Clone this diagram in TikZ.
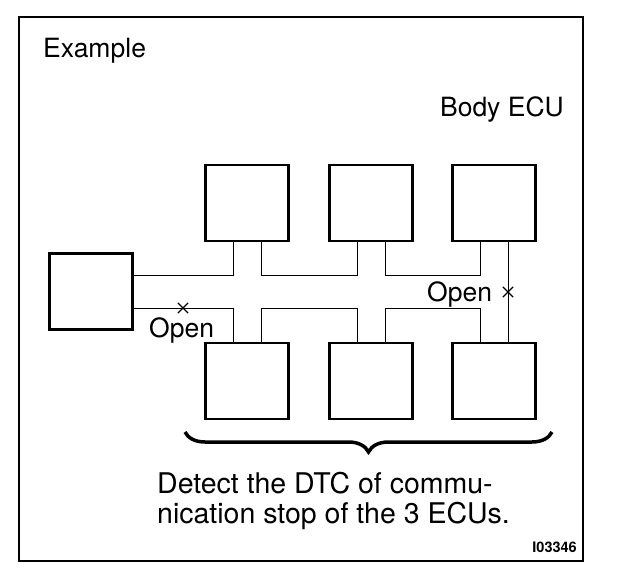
\documentclass[tikz,border=0pt]{standalone}
\usepackage{fontspec}
\setmainfont{TeX Gyre Heros}
\usetikzlibrary{shapes.misc,decorations.pathreplacing}
\tikzset{
  ecu/.style={draw, line width=2.2pt, minimum width=83pt, minimum height=76pt, inner sep=0pt, outer sep=0pt},
  wire/.style={line width=1pt},
  lbl/.style={font=\fontsize{26.5}{30}\selectfont, inner sep=0pt},
  openmark/.style={draw, cross out, line width=1.2pt, minimum width=9pt, minimum height=9pt, inner sep=0pt}
}
\begin{document}
\begin{tikzpicture}[x=1pt, y=-1pt]
  \useasboundingbox (0,0) rectangle (624,578);
  % frame
  \draw[line width=2.8pt] (19,17) rectangle (583,561);
  \node[lbl, anchor=base west] (title) at (43,58) {Example};
  \node[lbl, anchor=base east] (body) at (564,117) {Body ECU};
  % ECUs
  \node[ecu] (gw) at (91,291.5) {};
  \node[ecu] (t1) at (247,203) {};
  \node[ecu] (t2) at (371,203) {};
  \node[ecu] (t3) at (494,203) {};
  \node[ecu] (b1) at (247,381) {};
  \node[ecu] (b2) at (371,381) {};
  \node[ecu] (b3) at (494,381) {};
  % upper bus
  \draw[wire] ([yshift=16.5pt]gw.east) -| ([xshift=-14pt]t1.south);
  \draw[wire] ([xshift=14pt]t1.south) -- ++(0,34) -| ([xshift=-14pt]t2.south);
  \draw[wire] ([xshift=14pt]t2.south) -- ++(0,34) -| ([xshift=-14pt]t3.south);
  \draw[wire] ([xshift=14pt]t3.south) -- ([xshift=14pt]b3.north);
  % lower bus
  \draw[wire] ([yshift=-16.5pt]gw.east) -| ([xshift=-14pt]b1.north);
  \draw[wire] ([xshift=14pt]b1.north) -- ++(0,-35) -| ([xshift=-14pt]b2.north);
  \draw[wire] ([xshift=14pt]b2.north) -- ++(0,-35) -| ([xshift=-14pt]b3.north);
  % open circuits
  \node[openmark] (x1) at (183,308) {};
  \node[openmark] (x2) at (508,292) {};
  \node[lbl, anchor=base west] (open1) at (149,337) {Open};
  \node[lbl, anchor=base west] (open2) at (427,301) {Open};
  % brace and note
  \coordinate (braceL) at (185,432);
  \coordinate (braceR) at (552,432);
  \draw[decorate, decoration={brace, mirror, amplitude=20pt}, line width=3.5pt] (braceL) -- (braceR);
  \node[font=\fontsize{28.5}{30}\selectfont, inner sep=0pt, anchor=base west, align=left] (note) at (157,523)
    {Detect the DTC of commu-\\nication stop of the 3 ECUs.};
  \node[font=\bfseries\fontsize{14.5}{16}\selectfont, inner sep=0pt, anchor=base east] (code) at (577,552) {I03346};
\end{tikzpicture}
\end{document}
